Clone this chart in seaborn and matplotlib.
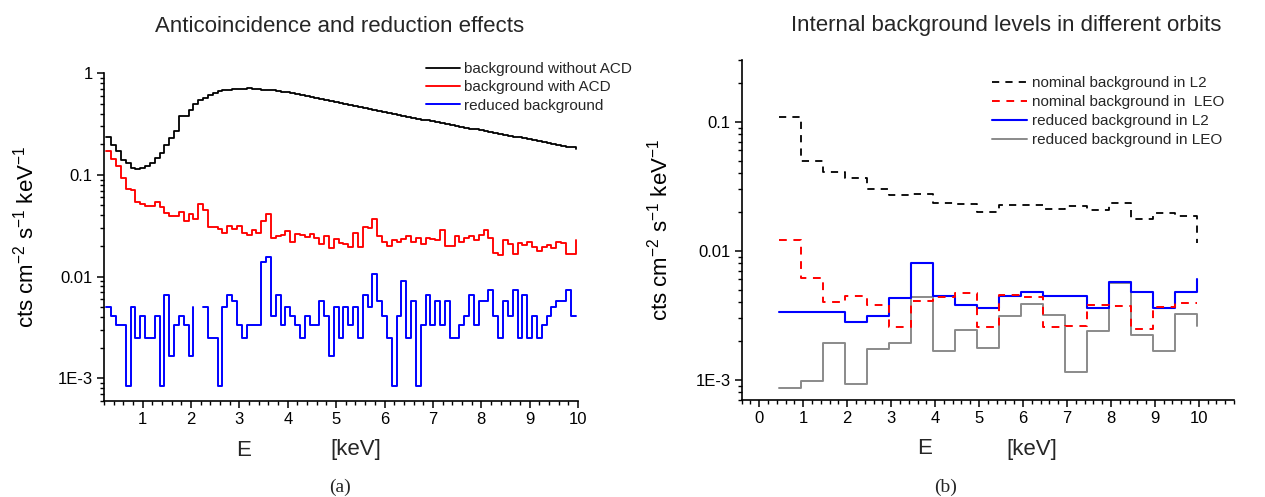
import numpy as np
import pandas as pd
import matplotlib
matplotlib.use("Agg")
import matplotlib.pyplot as plt
import seaborn as sns
from matplotlib.lines import Line2D
from matplotlib.ticker import LogLocator, NullFormatter, MultipleLocator

sns.set_theme(style="ticks")
plt.rcParams['font.family'] = ['Liberation Sans', 'DejaVu Sans']
plt.rcParams['mathtext.fontset'] = 'custom'
plt.rcParams['mathtext.rm'] = 'Liberation Sans'
plt.rcParams['mathtext.it'] = 'Liberation Sans:italic'
plt.rcParams['mathtext.bf'] = 'Liberation Sans:bold'

# ---------------- data: panel (a) ----------------
energy_a = np.round(np.arange(0.25, 9.96, 0.1), 2)   # step start energies (keV)

bkg_without_acd = [
    0.235, 0.197, 0.170, 0.141, 0.130, 0.116, 0.115, 0.116, 0.121, 0.130,
    0.145, 0.163, 0.197, 0.230, 0.272, 0.383, 0.383, 0.435, 0.500, 0.547,
    0.577, 0.612, 0.640, 0.662, 0.678, 0.690, 0.697, 0.702, 0.705, 0.708,
    0.706, 0.700, 0.692, 0.688, 0.682, 0.672, 0.660, 0.648, 0.636, 0.623,
    0.608, 0.595, 0.582, 0.568, 0.556, 0.542, 0.530, 0.520, 0.508, 0.496,
    0.484, 0.474, 0.463, 0.455, 0.444, 0.434, 0.425, 0.415, 0.405, 0.396,
    0.387, 0.379, 0.372, 0.365, 0.357, 0.350, 0.343, 0.336, 0.329, 0.322,
    0.315, 0.309, 0.303, 0.297, 0.291, 0.285, 0.280, 0.274, 0.269, 0.264,
    0.259, 0.254, 0.248, 0.243, 0.238, 0.234, 0.231, 0.228, 0.220, 0.215,
    0.211, 0.207, 0.202, 0.198, 0.194, 0.190, 0.186, 0.181]

bkg_with_acd = [
    0.170, 0.142, 0.122, 0.093, 0.072, 0.071, 0.0547, 0.0515, 0.0496, 0.0496,
    0.0535, 0.0481, 0.042, 0.039, 0.039, 0.0427, 0.0348, 0.0414, 0.0367, 0.0515,
    0.0453, 0.031, 0.031, 0.0294, 0.0271, 0.0315, 0.0294, 0.0315, 0.0267, 0.0257,
    0.0288, 0.0267, 0.0353, 0.0411, 0.0239, 0.0252, 0.0257, 0.0282, 0.0221, 0.0261,
    0.0257, 0.0244, 0.0261, 0.0239, 0.021, 0.0248, 0.019, 0.0233, 0.0213, 0.0208,
    0.0194, 0.0267, 0.0194, 0.0306, 0.0299, 0.0369, 0.0253, 0.0221, 0.020, 0.023,
    0.0221, 0.0235, 0.0251, 0.0218, 0.0242, 0.0208, 0.0238, 0.0233, 0.023, 0.0284,
    0.020, 0.020, 0.0248, 0.0218, 0.0238, 0.0251, 0.023, 0.0257, 0.0288, 0.0238,
    0.017, 0.0163, 0.023, 0.0208, 0.0166, 0.0213, 0.0205, 0.0218, 0.0197, 0.0179,
    0.0193, 0.0205, 0.019, 0.0221, 0.0213, 0.0166, 0.0166, 0.023]

reduced_bkg = [
    0.00496, 0.00413, 0.0033, 0.0033, 0.00083, 0.00496, 0.00248, 0.00413, 0.00248, 0.00248,
    0.00413, 0.00083, 0.0066, 0.00165, 0.0033, 0.00413, 0.0033, 0.00165, 0.00496, np.nan,
    0.00496, 0.00248, 0.00248, 0.00083, 0.00496, 0.0066, 0.00578, 0.0033, 0.00248, 0.0033,
    0.0033, 0.0033, 0.0140, 0.0157, 0.00413, 0.0066, 0.0033, 0.00496, 0.00413, 0.0033,
    0.00248, 0.00413, 0.0033, 0.0033, 0.00578, 0.00413, 0.00165, 0.00496, 0.00248, 0.00496,
    0.0033, 0.00496, 0.00248, 0.0066, 0.00496, 0.0107, 0.00578, 0.00413, 0.00248, 0.00083,
    0.00413, 0.0091, 0.00248, 0.00578, 0.00083, 0.0033, 0.0066, 0.0033, 0.00578, 0.0033,
    0.00578, 0.00248, 0.00248, 0.0033, 0.00413, 0.0066, 0.0033, 0.00578, 0.00578, 0.00743,
    0.00413, 0.00248, 0.00578, 0.00413, 0.00743, 0.00248, 0.0066, 0.00248, 0.00413, 0.00248,
    0.0033, 0.00413, 0.00496, 0.00578, 0.00578, 0.00743, 0.00413, 0.00413]

# ---------------- data: panel (b) ----------------
energy_b = np.round(np.arange(0.45, 9.96, 0.5), 2)

nominal_L2 = [0.108, 0.0497, 0.0406, 0.0365, 0.030, 0.0271, 0.0275, 0.0233, 0.0229, 0.020,
              0.0227, 0.0227, 0.021, 0.0223, 0.0207, 0.0233, 0.0177, 0.0195, 0.0187, 0.0115]
nominal_LEO = [0.0121, 0.00614, 0.00405, 0.00443, 0.00381, 0.00256, 0.00412, 0.00437, 0.00475, 0.00259,
               0.00455, 0.00440, 0.00256, 0.00263, 0.00381, 0.00374, 0.00247, 0.0037, 0.00392, 0.00392]
reduced_L2 = [0.00333, 0.00333, 0.00333, 0.00283, 0.00315, 0.0043, 0.0081, 0.00448, 0.00381, 0.00363,
              0.00443, 0.00481, 0.00443, 0.00443, 0.00363, 0.00578, 0.00483, 0.00363, 0.00481, 0.0060]
reduced_LEO = [0.000863, 0.000984, 0.00193, 0.000927, 0.00174, 0.00193, 0.00436, 0.00169, 0.00244, 0.00176,
               0.00315, 0.00386, 0.00319, 0.00116, 0.0024, 0.00568, 0.00223, 0.00169, 0.00325, 0.00262]

labels_a = ["background without ACD", "background with ACD", "reduced background"]
labels_b = ["nominal background in L2", "nominal background in  LEO",
            "reduced background in L2", "reduced background in LEO"]
yticks_a = [1e-3, 1e-2, 1e-1, 1]
yticklabels_a = ["1E-3", "0.01", "0.1", "1"]
yticks_b = [1e-3, 1e-2, 1e-1]
yticklabels_b = ["1E-3", "0.01", "0.1"]


def frame(x, y):
    y = np.asarray(y, dtype=float)
    seg = np.cumsum(np.isnan(y))
    df = pd.DataFrame({"E": x, "v": y, "seg": seg})
    return df.dropna()


fig = plt.figure(figsize=(12.65, 4.97), dpi=100)
axA = fig.add_axes([0.0822, 0.1938, 0.3747, 0.6588])
axB = fig.add_axes([0.5863, 0.1952, 0.3892, 0.6841])
for ax in (axA, axB):
    ax.set_yscale("log")

dash = (0, (4.0, 3.4))

# panel (a)
sns.lineplot(data=frame(energy_a, bkg_without_acd), x="E", y="v", units="seg", estimator=None,
             sort=False, color="black", lw=1.3, drawstyle="steps-post", ax=axA)
sns.lineplot(data=frame(energy_a, bkg_with_acd), x="E", y="v", units="seg", estimator=None,
             sort=False, color="#ff0000", lw=1.35, drawstyle="steps-post", ax=axA)
sns.lineplot(data=frame(energy_a, reduced_bkg), x="E", y="v", units="seg", estimator=None,
             sort=False, color="#0000ff", lw=1.4, drawstyle="steps-post", ax=axA)

# panel (b)
sns.lineplot(data=frame(energy_b, nominal_L2), x="E", y="v", units="seg", estimator=None,
             sort=False, color="black", lw=1.3, linestyle=dash, drawstyle="steps-post", ax=axB)
sns.lineplot(data=frame(energy_b, reduced_LEO), x="E", y="v", units="seg", estimator=None,
             sort=False, color="#8a8a8a", lw=1.4, drawstyle="steps-post", ax=axB)
sns.lineplot(data=frame(energy_b, reduced_L2), x="E", y="v", units="seg", estimator=None,
             sort=False, color="#0000ff", lw=1.5, drawstyle="steps-post", ax=axB)
sns.lineplot(data=frame(energy_b, nominal_LEO), x="E", y="v", units="seg", estimator=None,
             sort=False, color="#ff0000", lw=1.4, linestyle=dash, drawstyle="steps-post", ax=axB)

axA.set_xlim(0.2, 10)
axA.set_ylim(6e-4, 1)
axB.set_xlim(-0.4, 10.8)
axB.set_ylim(7e-4, 0.3)

axA.set_yticks(yticks_a, yticklabels_a)
axB.set_yticks(yticks_b, yticklabels_b)

for ax in (axA, axB):
    sns.despine(ax=ax)
    ax.grid(False)
    ax.xaxis.set_major_locator(MultipleLocator(1))
    ax.xaxis.set_minor_locator(MultipleLocator(0.2))
    ax.yaxis.set_minor_locator(LogLocator(base=10, subs=np.arange(2, 10), numticks=30))
    ax.yaxis.set_minor_formatter(NullFormatter())
    ax.tick_params(which="major", direction="out", length=5, width=1.1,
                   labelsize=12, colors="black", pad=3)
    ax.tick_params(which="minor", direction="out", length=2.8, width=1.0, colors="black")
    for s in ("left", "bottom"):
        ax.spines[s].set_color("black")
        ax.spines[s].set_linewidth(1.2)
    ax.set_xlabel("")
    ax.set_ylabel(r"cts cm$^{-2}$ s$^{-1}$ keV$^{-1}$", fontsize=16, color="black")

axA.yaxis.set_label_coords(-0.139, 0.5)
axB.yaxis.set_label_coords(-0.1395, 0.5)

# legends
hA = [Line2D([], [], color="black", lw=1.3),
      Line2D([], [], color="#ff0000", lw=1.35),
      Line2D([], [], color="#0000ff", lw=1.4)]
axA.legend(hA, labels_a, loc="upper left", bbox_to_anchor=(426 / 1265, 1 - 62 / 497),
           bbox_transform=fig.transFigure, frameon=False, fontsize=11,
           handlelength=2.2, handletextpad=0.3, labelspacing=0.28,
           borderpad=0, borderaxespad=0)
hB = [Line2D([], [], color="black", lw=1.3, linestyle=dash),
      Line2D([], [], color="#ff0000", lw=1.4, linestyle=dash),
      Line2D([], [], color="#0000ff", lw=1.5),
      Line2D([], [], color="#8a8a8a", lw=1.4)]
axB.legend(hB, labels_b, loc="upper left", bbox_to_anchor=(992 / 1265, 1 - 76 / 497),
           bbox_transform=fig.transFigure, frameon=False, fontsize=11,
           handlelength=2.3, handletextpad=0.3, labelspacing=0.33,
           borderpad=0, borderaxespad=0)

# titles, axis labels, captions
W, H = 1265, 497
fig.text(340 / W, 1 - 26 / H, "Anticoincidence and reduction effects",
         ha="center", va="center", fontsize=16)
fig.text(1006 / W, 1 - 26 / H, "Internal background levels in different orbits",
         ha="center", va="center", fontsize=16)
fig.text(244 / W, 1 - 450 / H, "E", ha="center", va="center", fontsize=16)
fig.text(356 / W, 1 - 450 / H, "[keV]", ha="center", va="center", fontsize=16)
fig.text(925 / W, 1 - 449 / H, "E", ha="center", va="center", fontsize=16)
fig.text(1032 / W, 1 - 449 / H, "[keV]", ha="center", va="center", fontsize=16)
fig.text(340 / W, 1 - 487 / H, "(a)", ha="center", va="center", fontsize=14,
         family=["Liberation Serif", "DejaVu Serif"])
fig.text(946 / W, 1 - 487 / H, "(b)", ha="center", va="center", fontsize=14,
         family=["Liberation Serif", "DejaVu Serif"])

fig.savefig("out.png", dpi=100, facecolor="white")
